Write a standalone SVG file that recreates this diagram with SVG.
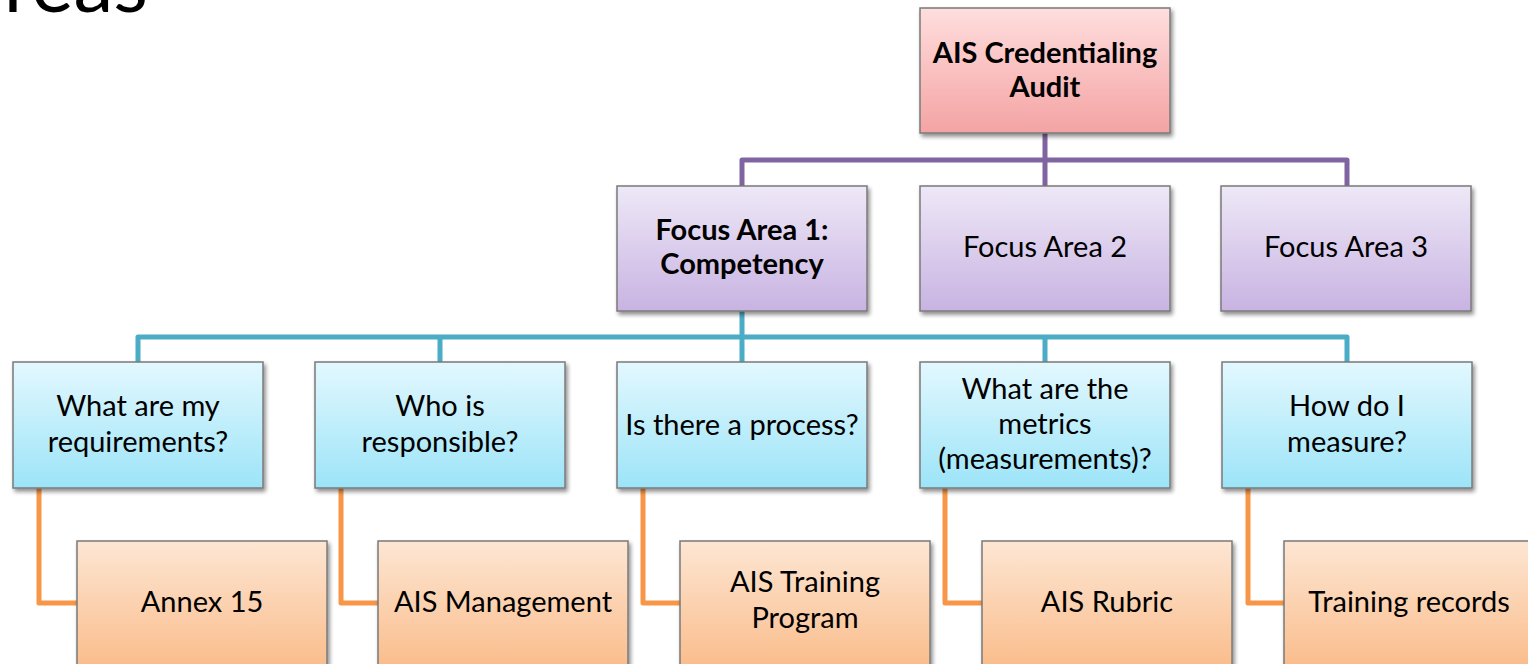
<svg xmlns="http://www.w3.org/2000/svg" width="1528" height="664" viewBox="0 0 1528 664">
<defs>
<linearGradient id="gPink" x1="0" y1="0" x2="0" y2="1"><stop offset="0" stop-color="#FFDEDE"/><stop offset="1" stop-color="#F4A3A3"/></linearGradient>
<linearGradient id="gPurple" x1="0" y1="0" x2="0" y2="1"><stop offset="0" stop-color="#EEE8F7"/><stop offset="1" stop-color="#C8B3E2"/></linearGradient>
<linearGradient id="gBlue" x1="0" y1="0" x2="0" y2="1"><stop offset="0" stop-color="#E3F8FE"/><stop offset="1" stop-color="#9CE4F8"/></linearGradient>
<linearGradient id="gOrange" x1="0" y1="0" x2="0" y2="1"><stop offset="0" stop-color="#FDE6D3"/><stop offset="1" stop-color="#FABD8C"/></linearGradient>
<filter id="sh" x="-10%" y="-10%" width="125%" height="130%">
<feGaussianBlur in="SourceAlpha" stdDeviation="2"/>
<feOffset dx="2" dy="3" result="o"/>
<feComponentTransfer><feFuncA type="linear" slope="0.45"/></feComponentTransfer>
<feMerge><feMergeNode/><feMergeNode in="SourceGraphic"/></feMerge>
</filter>
</defs>
<style>
.box{stroke:#7A7A7A;stroke-width:1.5;filter:url(#sh)}
.t{font-family:Lato,"Open Sans","Liberation Sans",sans-serif;font-size:29px;fill:#000;text-anchor:middle}
.b{font-weight:bold}
.c{fill:none;stroke-width:5;stroke-linejoin:round;stroke-linecap:butt}
.cp{stroke:#8064A2}
.ct{stroke:#4BACC6}
.co{stroke:#F79646}
</style>
<text x="148" y="12" style="font-family:Lato,'Open Sans',sans-serif;font-weight:400;font-size:80px;text-anchor:end;fill:#000">areas</text>
<g id="connectors">
<path class="c cp" d="M1045 133V186M742 186V160H1347V186"/>
<path class="c ct" d="M742 311V362M138 362V337H1347V362M440 337V362M1045 337V362"/>
<path class="c co" d="M39 488V603H77"/>
<path class="c co" d="M341 488V603H378"/>
<path class="c co" d="M643 488V603H680"/>
<path class="c co" d="M945 488V603H982"/>
<path class="c co" d="M1248 488V603H1284"/>
</g>
<g id="n-root"><rect class="box" x="920" y="8" width="250" height="125" fill="url(#gPink)"/>
<text class="t b" x="1045" y="63">AIS Credentialing</text><text class="t b" x="1045" y="97">Audit</text></g>
<g id="n-fa1"><rect class="box" x="617" y="186" width="250" height="125" fill="url(#gPurple)"/>
<text class="t b" x="742" y="240">Focus Area 1:</text><text class="t b" x="742" y="274">Competency</text></g>
<g id="n-fa2"><rect class="box" x="920" y="186" width="250" height="125" fill="url(#gPurple)"/>
<text class="t" x="1045" y="257">Focus Area 2</text></g>
<g id="n-fa3"><rect class="box" x="1221" y="186" width="250" height="125" fill="url(#gPurple)"/>
<text class="t" x="1346" y="257">Focus Area 3</text></g>
<g id="n-q1"><rect class="box" x="13" y="362" width="250" height="126" fill="url(#gBlue)"/>
<text class="t" x="138" y="416">What are my</text><text class="t" x="138" y="452">requirements?</text></g>
<g id="n-q2"><rect class="box" x="315" y="362" width="250" height="126" fill="url(#gBlue)"/>
<text class="t" x="440" y="416">Who is</text><text class="t" x="440" y="452">responsible?</text></g>
<g id="n-q3"><rect class="box" x="617" y="362" width="250" height="126" fill="url(#gBlue)"/>
<text class="t" x="742" y="435">Is there a process?</text></g>
<g id="n-q4"><rect class="box" x="920" y="362" width="250" height="126" fill="url(#gBlue)"/>
<text class="t" x="1045" y="399">What are the</text><text class="t" x="1045" y="434">metrics</text><text class="t" x="1045" y="469">(measurements)?</text></g>
<g id="n-q5"><rect class="box" x="1222" y="362" width="250" height="126" fill="url(#gBlue)"/>
<text class="t" x="1347" y="416">How do I</text><text class="t" x="1347" y="452">measure?</text></g>
<g id="n-a1"><rect class="box" x="77" y="541" width="250" height="126" fill="url(#gOrange)"/>
<text class="t" x="202" y="612">Annex 15</text></g>
<g id="n-a2"><rect class="box" x="378" y="541" width="250" height="126" fill="url(#gOrange)"/>
<text class="t" x="503" y="612">AIS Management</text></g>
<g id="n-a3"><rect class="box" x="680" y="541" width="250" height="126" fill="url(#gOrange)"/>
<text class="t" x="805" y="592">AIS Training</text><text class="t" x="805" y="628">Program</text></g>
<g id="n-a4"><rect class="box" x="982" y="541" width="250" height="126" fill="url(#gOrange)"/>
<text class="t" x="1107" y="612">AIS Rubric</text></g>
<g id="n-a5"><rect class="box" x="1284" y="541" width="250" height="126" fill="url(#gOrange)"/>
<text class="t" x="1409" y="612">Training records</text></g>
</svg>
